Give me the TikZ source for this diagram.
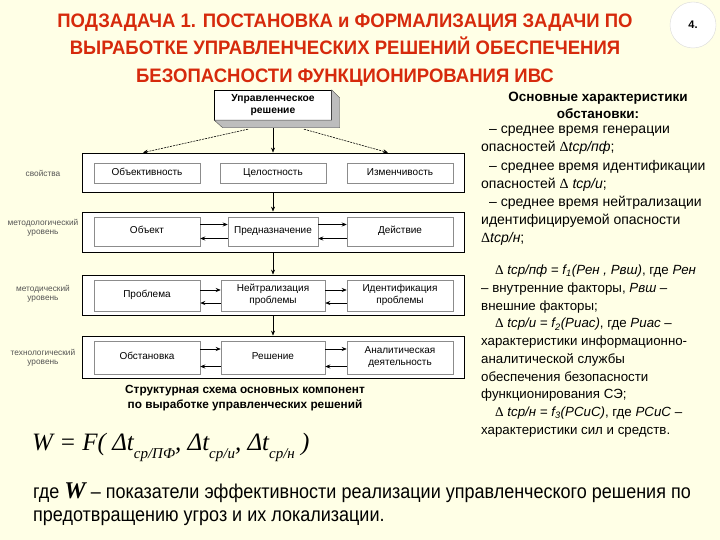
\documentclass[tikz,border=0pt]{standalone}
\usepackage{fontspec}
\setmainfont{Liberation Sans}
\newfontfamily\titlesans[FakeStretch=0.95]{Liberation Sans}
\newfontfamily\narrowsans[FakeStretch=0.9]{Liberation Sans}
\newfontfamily\timesfont{Liberation Serif}
\usetikzlibrary{arrows.meta,positioning,calc}
\definecolor{PaleCream}{HTML}{FFFFE6}
\definecolor{TitleRed}{HTML}{D62A0C}
\definecolor{FrameGray}{HTML}{8C8C8C}
\definecolor{SideGray}{HTML}{BDBDBD}
\definecolor{LabelGray}{HTML}{555555}
\newcommand{\dt}{{\timesfont Δ}}
\newcommand{\lowsub}[1]{\raisebox{-0.32em}{\fontsize{15}{15}\selectfont #1}}
\tikzset{
  level/.style={draw=black,fill=white,minimum width=382pt,inner sep=0pt,line width=0.8pt},
  cell/.style={draw=FrameGray,fill=white,minimum width=106pt,inner sep=0pt,align=center,
              font=\fontsize{10}{12}\selectfont,line width=0.5pt,
              execute at begin node=\strut,execute at end node=\strut},
  side/.style={font=\fontsize{8.3}{9.5}\selectfont,text=LabelGray,align=center},
  down/.style={-{Stealth[length=5pt,width=4pt]},line width=0.6pt},
  fan/.style={down,dash pattern=on 2pt off 1pt},
  swap/.style={-{Stealth[length=5pt,width=4pt]},line width=0.6pt},
  rtext/.style={align=left,inner sep=0pt}
}
\begin{document}
\begin{tikzpicture}[x=1pt,y=-1pt]
  \fill[PaleCream] (0,0) rectangle (720,540);
  \useasboundingbox (0,0) rectangle (720,540);

  % heading
  \node[font=\titlesans\bfseries\fontsize{19.5}{27.5}\selectfont,text=TitleRed,align=center] (title) at (345,50)
    {ПОДЗАДАЧА 1. ПОСТАНОВКА и ФОРМАЛИЗАЦИЯ ЗАДАЧИ ПО\\ВЫРАБОТКЕ УПРАВЛЕНЧЕСКИХ РЕШЕНИЙ ОБЕСПЕЧЕНИЯ\\БЕЗОПАСНОСТИ ФУНКЦИОНИРОВАНИЯ ИВС};
  \node[circle,draw=black!15,fill=white,minimum size=46pt,font=\bfseries\fontsize{11}{11}\selectfont] (num) at (693,25) {4.};

  % structural scheme
  \node[draw=black,fill=white,minimum width=117pt,minimum height=30pt,align=center,
        font=\bfseries\fontsize{10.3}{12}\selectfont] (dec) at (273,105) {Управленческое\\решение};
  \filldraw[fill=SideGray,draw=black!70,line width=0.4pt] (dec.north east) -- ++(8,8) -- ++(0,30) -- ++(-117,0)
    -- (dec.south west) -- (dec.south east) -- cycle;

  \node[level,minimum height=39pt] (props) at (273,172.5) {};
  \node[level,minimum height=40pt] (methodology) at (273,232) {};
  \node[level,minimum height=40pt] (methodic) at (273,295) {};
  \node[level,minimum height=42pt] (technology) at (273,357) {};

  \node[cell,minimum height=20pt] (objv) at (147,173) {Объективность};
  \node[cell,minimum height=20pt] (integ) at (273,173) {Целостность};
  \node[cell,minimum height=20pt] (varb) at (400,173) {Изменчивость};

  \node[cell,minimum height=29pt] (obj) at (147,231.5) {Объект};
  \node[cell,minimum height=29pt,minimum width=90pt] (purp) at (273,231.5) {Предназначение};
  \node[cell,minimum height=29pt] (act) at (400,231.5) {Действие};

  \node[cell,minimum height=31pt] (prob) at (147,295.5) {Проблема};
  \node[cell,minimum height=31pt,minimum width=104pt] (neut) at (273,295.5) {Нейтрализация\\проблемы};
  \node[cell,minimum height=31pt] (ident) at (400,295.5) {Идентификация\\проблемы};

  \node[cell,minimum height=33pt] (sit) at (147,357.5) {Обстановка};
  \node[cell,minimum height=33pt,minimum width=104pt] (sol) at (273,357.5) {Решение};
  \node[cell,minimum height=33pt] (anal) at (400,357.5) {Аналитическая\\деятельность};

  \node[side] (lprops) at (43,173) {свойства};
  \node[side] (lmethodology) at (43,228) {методологический\\уровень};
  \node[side] (lmethodic) at (43,294) {методический\\уровень};
  \node[side] (ltechnology) at (43,358) {технологический\\уровень};

  \draw[fan] ([xshift=-25pt,yshift=-9pt]dec.south) -- ([xshift=-130pt]props.north);
  \draw[down] ([yshift=-8pt]dec.south) -- (props.north);
  \draw[fan] ([xshift=31pt,yshift=-9pt]dec.south) -- ([xshift=115pt]props.north);
  \draw[down] (props.south) -- (methodology.north);
  \draw[down] (methodology.south) -- (methodic.north);
  \draw[down] (methodic.south) -- (technology.north);

  \draw[swap] ([yshift=7pt]obj.east) -- ([yshift=7pt]purp.west);
  \draw[swap] ([yshift=-7pt]purp.west) -- ([yshift=-7pt]obj.east);
  \draw[swap] ([yshift=7pt]purp.east) -- ([yshift=7pt]act.west);
  \draw[swap] ([yshift=-7pt]act.west) -- ([yshift=-7pt]purp.east);
  \draw[swap] ([yshift=5.5pt]prob.east) -- ([yshift=5.5pt]neut.west);
  \draw[swap] ([yshift=-7.5pt]neut.west) -- ([yshift=-7.5pt]prob.east);
  \draw[swap] ([yshift=5.5pt]neut.east) -- ([yshift=5.5pt]ident.west);
  \draw[swap] ([yshift=-7.5pt]ident.west) -- ([yshift=-7.5pt]neut.east);
  \draw[swap] ([yshift=8.5pt]sit.east) -- ([yshift=8.5pt]sol.west);
  \draw[swap] ([yshift=-9pt]sol.west) -- ([yshift=-9pt]sit.east);
  \draw[swap] ([yshift=8.5pt]sol.east) -- ([yshift=8.5pt]anal.west);
  \draw[swap] ([yshift=-9pt]anal.west) -- ([yshift=-9pt]sol.east);

  \node[font=\bfseries\fontsize{11.8}{14.5}\selectfont,align=center] (caption) at (245,398)
    {Структурная схема основных компонент\\по выработке управленческих решений};

  % characteristics of the situation
  \node[font=\bfseries\fontsize{13.5}{17}\selectfont,align=center] (head) at (598,105)
    {Основные характеристики\\обстановки:};
  \node[rtext,anchor=north west,font=\fontsize{14}{18.2}\selectfont] (list) at (481,126)
    {\hspace*{8pt}– среднее время генерации\\
     опасностей \dt\textit{tср/пф};\\
     \hspace*{8pt}– среднее время идентификации\\
     опасностей \dt\ \textit{tср/и};\\
     \hspace*{8pt}– среднее время нейтрализации\\
     идентифицируемой опасности\\
     \dt\textit{tср/н};};
  \node[rtext,anchor=north west,font=\fontsize{13.3}{17.7}\selectfont] (deps) at (481,265)
    {\hspace*{14pt}\dt\ \textit{tср/пф = f\textsubscript{1}(Рен , Рвш)}, где \textit{Рен}\\
     – внутренние факторы, \textit{Рвш} –\\
     внешние факторы;\\
     \hspace*{14pt}\dt\ \textit{tср/и = f\textsubscript{2}(Риас)}, где \textit{Риас} –\\
     характеристики информационно-\\
     аналитической службы\\
     обеспечения безопасности\\
     функционирования СЭ;\\
     \hspace*{14pt}\dt\ \textit{tср/н = f\textsubscript{3}(РСиС)}, где \textit{РСиС} –\\
     характеристики сил и средств.};

  % efficiency
  \node[anchor=base west,inner sep=0pt,font=\timesfont\itshape\fontsize{25}{25}\selectfont] (wform) at (32,450)
    {W = F( Δt\lowsub{ср/ПФ}, Δt\lowsub{ср/и}, Δt\lowsub{ср/н} )};
  \node[anchor=base west,inner sep=0pt,align=left,font=\narrowsans\fontsize{20}{23}\selectfont] (where) at (33,521)
    {где {\timesfont\bfseries\itshape\fontsize{24}{23}\selectfont W} – показатели эффективности реализации управленческого решения по\\
     предотвращению угроз и их локализации.};
\end{tikzpicture}
\end{document}
